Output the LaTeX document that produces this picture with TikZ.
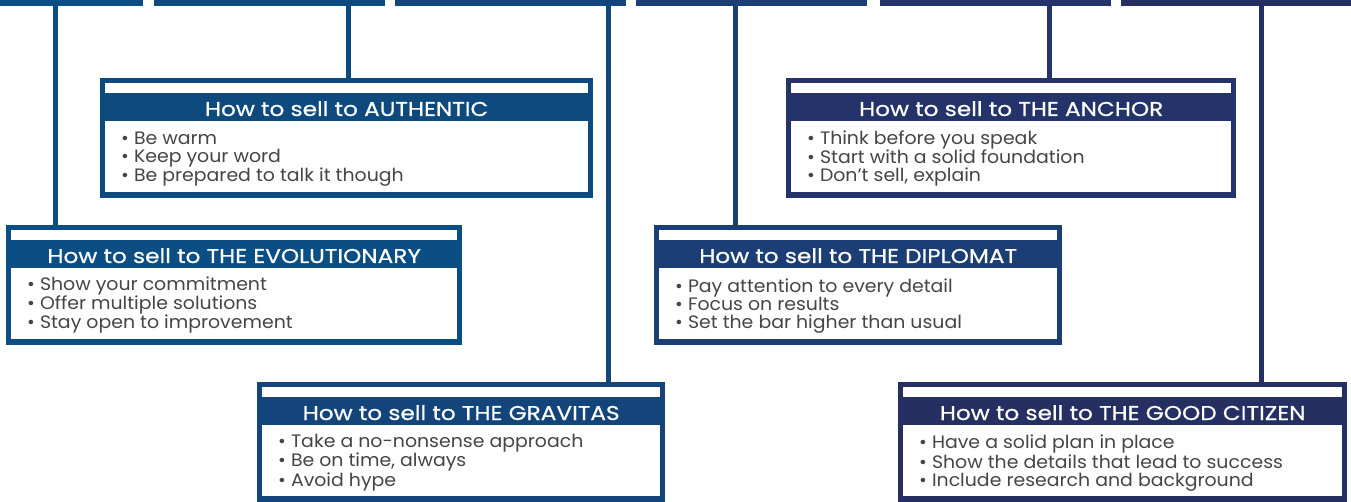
\documentclass[tikz,border=0pt]{standalone}
\usepackage{fontspec}
\setmainfont{Poppins}
\newfontfamily\cardheadfont[FakeStretch=1.16, FakeBold=0.6]{Poppins}
\newfontfamily\cardlistfont[FakeStretch=1.05]{Poppins}
\usetikzlibrary{positioning,calc}
\definecolor{tierA}{HTML}{0B4E84}
\definecolor{tierB}{HTML}{0E4A7D}
\definecolor{tierC}{HTML}{14457A}
\definecolor{tierD}{HTML}{1B3F74}
\definecolor{tierE}{HTML}{24346A}
\definecolor{tierF}{HTML}{262F62}
\definecolor{bodygray}{HTML}{454545}
\tikzset{
  topbar/.style   ={rectangle, inner sep=0pt, minimum height=5.5pt, anchor=north west},
  card/.style     ={rectangle, inner sep=0pt, anchor=north west},
  cardtitle/.style={text=white, inner sep=0pt, anchor=base,
                    font=\cardheadfont\fontsize{20}{20}\selectfont},
  cardbody/.style ={text=bodygray, inner sep=0pt, align=left, anchor=base west,
                    font=\cardlistfont\fontsize{18}{18}\selectfont},
  link/.style     ={line width=5pt}
}
% name, colour, x, y, width, height, title, list (anchored on its last line)
\newcommand{\sellcard}[8]{%
  \node[card, fill=#2, minimum width=#5pt, minimum height=#6pt] (#1) at (#3,#4) {};
  \fill[white] ([xshift=5pt,yshift=-5pt]#1.north west) rectangle ([xshift=-5pt,yshift=-15pt]#1.north east);
  \fill[white] ([xshift=5pt,yshift=-43pt]#1.north west) rectangle ([xshift=-5pt,yshift=6pt]#1.south east);
  \node[cardtitle] (#1-title) at ([yshift=-38pt]#1.north) {How to sell to #7};
  \node[cardbody] (#1-list) at ([xshift=21pt,yshift=-104pt]#1.north west) {#8};
}

\begin{document}
\begin{tikzpicture}[x=1pt, y=-1pt]
\useasboundingbox (0,0) rectangle (1351,502);

\sellcard{evo}{tierA}{6}{225}{456}{120}{THE EVOLUTIONARY}
  {• Show your commitment\\• Offer multiple solutions\\• Stay open to improvement}
\sellcard{auth}{tierB}{100}{78}{493}{120}{AUTHENTIC}
  {• Be warm\\• Keep your word\\• Be prepared to talk it though}
\sellcard{grav}{tierC}{257}{382}{408}{120}{THE GRAVITAS}
  {• Take a no-nonsense approach\\• Be on time, always\\• Avoid hype}
\sellcard{dipl}{tierD}{654}{225}{408}{120}{THE DIPLOMAT}
  {• Pay attention to every detail\\• Focus on results\\• Set the bar higher than usual}
\sellcard{anch}{tierE}{786}{78}{450}{120}{THE ANCHOR}
  {• Think before you speak\\• Start with a solid foundation\\• Don’t sell, explain}
\sellcard{good}{tierF}{898}{382}{449}{120}{THE GOOD CITIZEN}
  {• Have a solid plan in place\\• Show the details that lead to success\\• Include research and background}

% header strip along the top, one drop line per card
\foreach \i/\x/\w/\c/\f/\card in {1/0/143/tierA/0.385/evo, 2/154/231/tierB/0.840/auth,
    3/395/231/tierC/0.922/grav, 4/636/231/tierD/0.429/dipl,
    5/880/231/tierE/0.732/anch, 6/1121/230/tierF/0.609/good}{
  \node[topbar, fill=\c, minimum width=\w pt] (bar\i) at (\x,0) {};
  \draw[link, draw=\c] ($(bar\i.south west)!\f!(bar\i.south east)$) coordinate (drop\i)
    -- (drop\i |- \card.north);
}
\end{tikzpicture}
\end{document}
